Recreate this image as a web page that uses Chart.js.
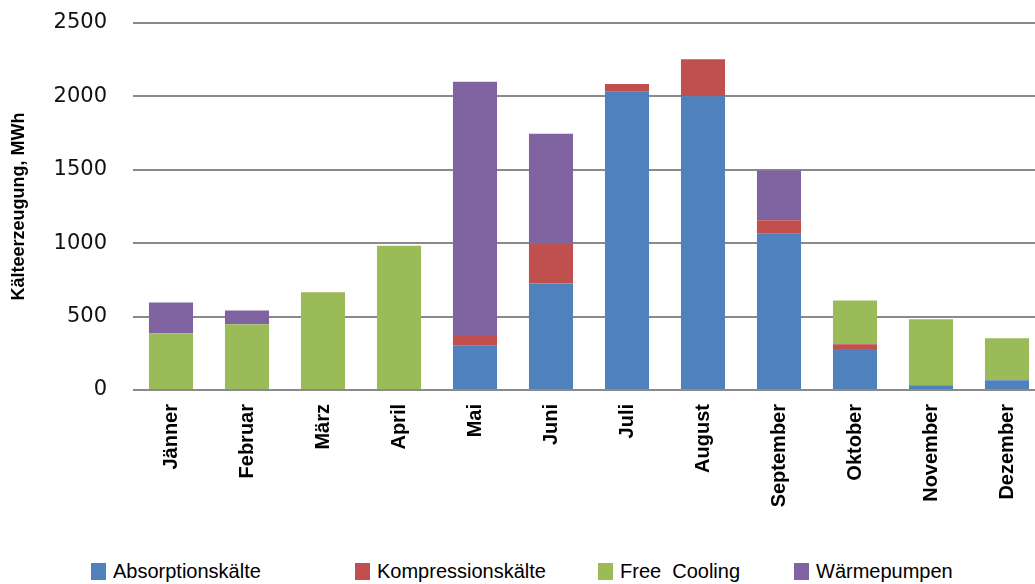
<!DOCTYPE html>
<html>
<head>
<meta charset="utf-8">
<script src="https://cdn.jsdelivr.net/npm/chart.js@4/dist/chart.umd.min.js"></script>
<style>
html,body{margin:0;padding:0;background:#fff;overflow:hidden;width:1035px;height:584px;position:relative;}
#wrap{position:absolute;left:0;top:0;width:1060px;height:540px;}
#legend{position:absolute;left:0;top:562px;width:1035px;height:22px;font-family:"Liberation Sans",Arial,sans-serif;font-size:20px;color:#000;}
.li{position:absolute;top:0;height:20px;white-space:pre;}
.sw{position:absolute;left:0;top:1px;width:15px;height:17px;}
.tx{position:absolute;left:22px;top:-1px;line-height:20px;white-space:pre;}
</style>
</head>
<body>
<div id="wrap"><canvas id="c" width="1060" height="540"></canvas></div>
<div id="legend"></div>
<script>
const months = ["Jänner","Februar","März","April","Mai","Juni","Juli","August","September","Oktober","November","Dezember"];
const seriesNames = ["Absorptionskälte","Kompressionskälte","Free  Cooling","Wärmepumpen"];
const absorption   = [0,   0,   0,   0,   302, 725, 2031, 2001, 1064, 280, 32,  66];
const kompression  = [0,   0,   0,   0,   73,  275, 54,   252,  93,   32,  0,   0];
const freeCooling  = [387, 448, 666, 982, 0,   0,   0,    0,    0,    297, 450, 287];
const waermepumpen = [209, 93,  0,   0,   1724,746, 0,    0,    339,  0,   0,   0];
const yTicks = [0, 500, 1000, 1500, 2000, 2500];
const yTitle = "Kälteerzeugung, MWh";

const colors = ["#4F81BD","#C0504D","#9BBB59","#8064A2"];
const legendX = [91, 355, 598, 794];

const values = [absorption, kompression, freeCooling, waermepumpen];
const datasets = values.map((v, i) => ({
  label: seriesNames[i],
  data: v,
  backgroundColor: colors[i],
  borderWidth: 0,
  barPercentage: 0.58,
  categoryPercentage: 1.0
}));

new Chart(document.getElementById('c'), {
  type: 'bar',
  data: { labels: months, datasets: datasets },
  options: {
    responsive: false,
    animation: false,
    events: [],
    layout: { padding: { top: 23, right: 15, left: 0, bottom: 0 } },
    plugins: { legend: { display: false }, tooltip: { enabled: false } },
    scales: {
      x: {
        stacked: true,
        grid: { display: false, drawTicks: false },
        border: { display: false },
        ticks: {
          autoSkip: false, minRotation: 90, maxRotation: 90, padding: 14,
          color: '#000',
          font: { family: '"Liberation Sans", Arial, sans-serif', size: 20, weight: 'bold' }
        },
        afterFit: s => { s.height = 150; }
      },
      y: {
        stacked: true,
        min: 0, max: 2500,
        afterBuildTicks: s => { s.ticks = yTicks.map(v => ({ value: v })); },
        grid: { color: '#8a8a8a', lineWidth: 2, drawTicks: false },
        border: { display: false },
        ticks: {
          padding: 26, color: '#111',
          font: { family: '"DejaVu Sans", sans-serif', size: 21 },
          callback: v => String(v)
        },
        title: {
          display: true, text: yTitle, color: '#000',
          padding: { top: 8, bottom: 0 },
          font: { family: '"Liberation Sans", Arial, sans-serif', size: 18, weight: 'bold' }
        },
        afterFit: s => { s.width = 133; s.paddingTop = 0; s.paddingBottom = 0; }
      }
    }
  }
});

const lg = document.getElementById('legend');
seriesNames.forEach((n, i) => {
  const d = document.createElement('div');
  d.className = 'li';
  d.style.left = legendX[i] + 'px';
  d.innerHTML = '<span class="sw" style="background:' + colors[i] + '"></span><span class="tx"></span>';
  d.querySelector('.tx').textContent = n;
  lg.appendChild(d);
});
</script>
</body>
</html>
